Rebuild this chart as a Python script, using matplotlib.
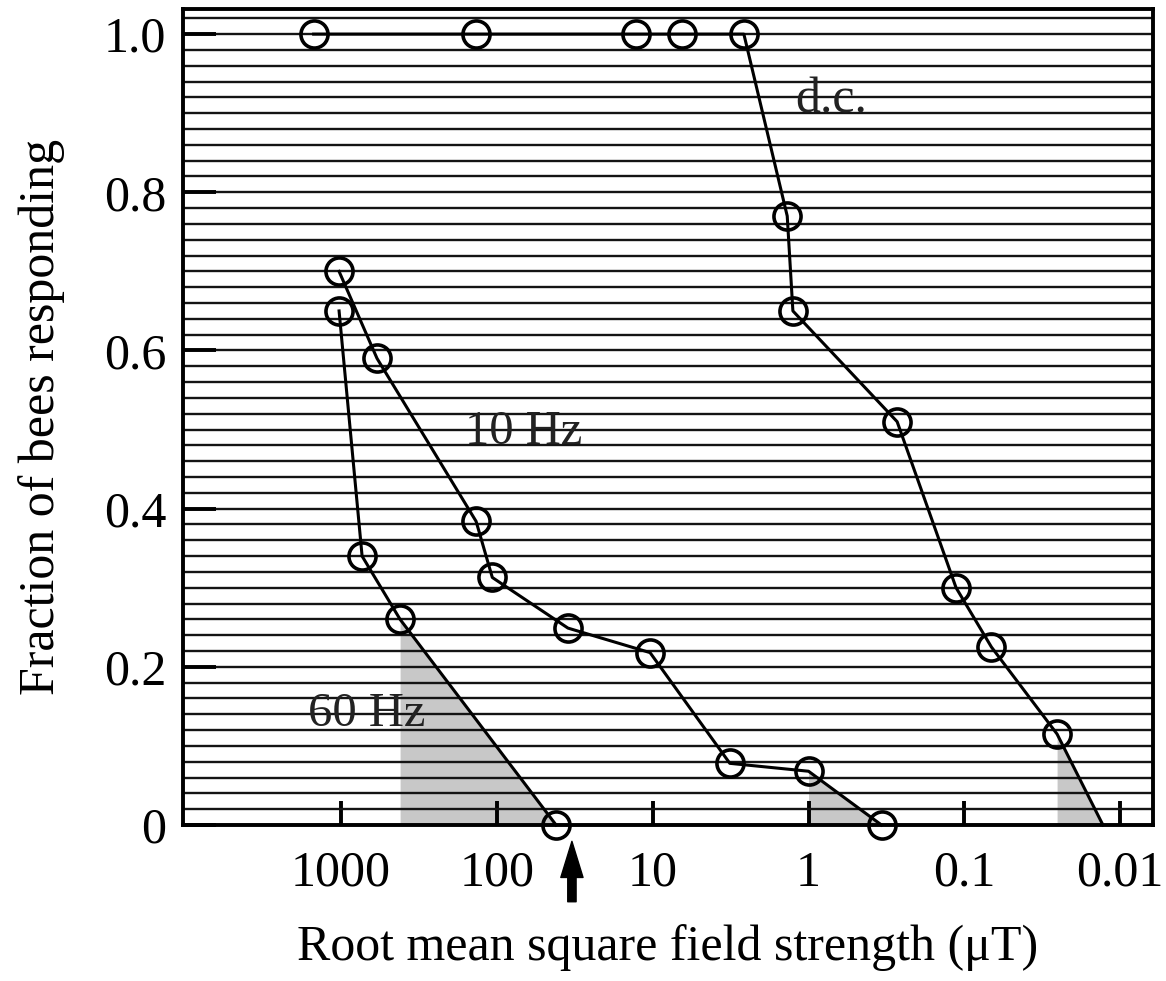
import matplotlib
matplotlib.use("Agg")
import matplotlib.pyplot as plt
from matplotlib.ticker import FixedLocator, MultipleLocator, NullLocator

plt.rcParams['font.family'] = ['Liberation Serif', 'DejaVu Serif']

# field strength (uT) vs fraction of bees responding
# d.c. : last point is only the end of the line (no marker)
dc_x = [1500, 136, 12.8, 6.5, 2.6, 1.37, 1.26, 0.27, 0.113, 0.067, 0.0254, 0.0129]
dc_y = [1.0, 1.0, 1.0, 1.0, 1.0, 0.77, 0.65, 0.51, 0.30, 0.225, 0.115, 0.0]

hz10_x = [1030, 588, 136, 107, 35, 10.4, 3.2, 1.0, 0.34]
hz10_y = [0.70, 0.59, 0.384, 0.313, 0.249, 0.218, 0.078, 0.068, 0.0]

hz60_x = [1030, 733, 418, 41.7]
hz60_y = [0.65, 0.34, 0.26, 0.0]

xticks = [1000, 100, 10, 1, 0.1, 0.01]
xticklabels = ['1000', '100', '10', '1', '0.1', '0.01']
yticks = [0, 0.2, 0.4, 0.6, 0.8, 1.0]
yticklabels = ['0', '0.2', '0.4', '0.6', '0.8', '1.0']

arrow_x = 33

fig = plt.figure(figsize=(11.66, 9.81), dpi=100)
ax = fig.add_axes([0.157, 0.159, 0.832, 0.832])
ax.set_xscale('log')
ax.set_xlim(10330, 0.00614)
ax.set_ylim(0, 1.032)

# striped background
ax.yaxis.set_minor_locator(MultipleLocator(0.02))
ax.yaxis.grid(True, which='both', color='#141414', linewidth=1.7)
ax.xaxis.grid(False)

line_kw = dict(color='black', linewidth=2.2, marker='o', markersize=19.5,
               markerfacecolor='none', markeredgecolor='black',
               markeredgewidth=2.6, clip_on=False, zorder=3)

ax.plot(dc_x, dc_y, markevery=list(range(len(dc_x) - 1)), **line_kw)
ax.plot(hz10_x, hz10_y, **line_kw)
ax.plot(hz60_x, hz60_y, **line_kw)

# grey wedges under the last segment of each curve
for xs, ys in [(dc_x, dc_y), (hz10_x, hz10_y), (hz60_x, hz60_y)]:
    ax.fill_between(xs[-2:], ys[-2:], 0, color='#c8c8c8', linewidth=0, zorder=1)

ax.text(1.22, 0.917, 'd.c.', fontsize=36, ha='left', va='center', color='#222222')
ax.text(160, 0.497, '10 Hz', fontsize=35, ha='left', va='center', color='#222222')
ax.text(1630, 0.14, '60 Hz', fontsize=35, ha='left', va='center', color='#222222')

ax.annotate('', xy=(arrow_x, -0.02), xytext=(arrow_x, -0.094),
            xycoords=('data', 'axes fraction'), textcoords=('data', 'axes fraction'),
            arrowprops=dict(facecolor='black', edgecolor='black', width=6,
                            headwidth=16, headlength=26))

ax.xaxis.set_major_locator(FixedLocator(xticks))
ax.xaxis.set_minor_locator(NullLocator())
ax.set_xticklabels(xticklabels)
ax.set_yticks(yticks)
ax.set_yticklabels(yticklabels)
ax.tick_params(axis='x', which='major', direction='in', length=17, width=2.8,
               pad=18, labelsize=36)
ax.tick_params(axis='y', which='major', direction='in', length=24, width=2.8,
               pad=12, labelsize=36)
ax.tick_params(axis='y', which='minor', length=0)

for s in ax.spines.values():
    s.set_linewidth(2.8)

ax.set_xlabel('Root mean square field strength (\u03bcT)', fontsize=36, labelpad=20)
ax.set_ylabel('Fraction of bees responding', fontsize=36, labelpad=28)

fig.savefig('out.png', dpi=100)
